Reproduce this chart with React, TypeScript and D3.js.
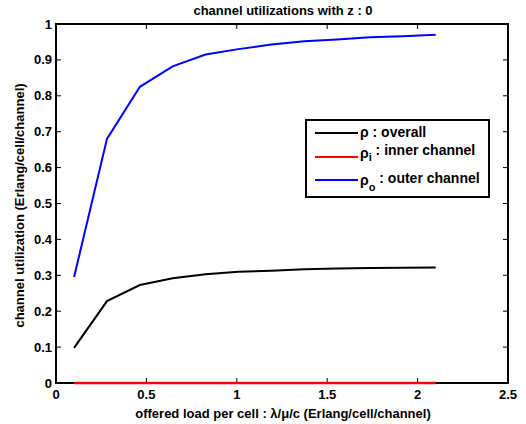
import React from "react";
import * as d3 from "d3";

const xValues = [0.1, 0.282, 0.464, 0.645, 0.827, 1.009, 1.191, 1.373, 1.555, 1.736, 1.918, 2.1];
const overall = [0.098, 0.228, 0.273, 0.292, 0.303, 0.310, 0.313, 0.317, 0.319, 0.320, 0.321, 0.322];
const inner = [0, 0, 0, 0, 0, 0, 0, 0, 0, 0, 0, 0];
const outer = [0.295, 0.68, 0.825, 0.882, 0.915, 0.930, 0.943, 0.952, 0.957, 0.963, 0.966, 0.970];
const xTicks = [0, 0.5, 1, 1.5, 2, 2.5];
const yTicks = [0, 0.1, 0.2, 0.3, 0.4, 0.5, 0.6, 0.7, 0.8, 0.9, 1];

const W = 526, H = 424;
const L = 56, R = 508, T = 24, B = 383;
const FONT = "'Liberation Sans', Arial, sans-serif";

export default function App() {
  const x = d3.scaleLinear().domain([0, 2.5]).range([L, R]);
  const y = d3.scaleLinear().domain([0, 1]).range([B, T]);
  const line = d3.line<[number, number]>().x(d => x(d[0])).y(d => y(d[1]));
  const pts = (vals: number[]) => xValues.map((xv, j) => [xv, vals[j]] as [number, number]);
  const fmt = (v: number) => String(v);
  return (
    <svg width={W} height={H} style={{ position: "absolute", left: 0, top: 0, background: "#fff" }} fontFamily={FONT} fontWeight="bold">
      <rect x={0} y={0} width={W} height={H} fill="#fff" />
      <path d={line(pts(overall)) || ""} fill="none" stroke="#000" strokeWidth={2} />
      <path d={line(pts(outer)) || ""} fill="none" stroke="#0000ff" strokeWidth={2} />
      {xTicks.map((t, i) => (
        <g key={"xt" + i}>
          <line x1={x(t)} x2={x(t)} y1={B} y2={B - 5} stroke="#000" strokeWidth={1} />
          <line x1={x(t)} x2={x(t)} y1={T} y2={T + 5} stroke="#000" strokeWidth={1} />
          <text x={x(t)} y={399} textAnchor="middle" fontSize={13}>{fmt(t)}</text>
        </g>
      ))}
      {yTicks.map((t, i) => (
        <g key={"yt" + i}>
          <line x1={L} x2={L + 5} y1={y(t)} y2={y(t)} stroke="#000" strokeWidth={1} />
          <line x1={R} x2={R - 5} y1={y(t)} y2={y(t)} stroke="#000" strokeWidth={1} />
          <text x={L - 4} y={y(t) + 4.5} textAnchor="end" fontSize={13}>{fmt(t)}</text>
        </g>
      ))}
      <rect x={L} y={T} width={R - L} height={B - T} fill="none" stroke="#000" strokeWidth={2} />
      <path d={line(pts(inner)) || ""} fill="none" stroke="#ff0000" strokeWidth={2.5} />
      <text x={(L + R) / 2 + 1} y={15} textAnchor="middle" fontSize={13}>channel utilizations with z : 0</text>
      <text x={(L + R) / 2 + 1} y={418} textAnchor="middle" fontSize={13}>offered load per cell : λ/μ/c (Erlang/cell/channel)</text>
      <text transform={`translate(24,${(T + B) / 2 + 2}) rotate(-90)`} textAnchor="middle" fontSize={13}>channel utilization (Erlang/cell/channel)</text>
      <rect x={306} y={120} width={183} height={77} fill="#fff" stroke="#000" strokeWidth={2} />
      <line x1={315} x2={358} y1={133} y2={133} stroke="#000" strokeWidth={2} />
      <line x1={315} x2={358} y1={157} y2={157} stroke="#ff0000" strokeWidth={2} />
      <line x1={315} x2={358} y1={180} y2={180} stroke="#0000ff" strokeWidth={2} />
      <text x={360} y={137} fontSize={14}>ρ : overall</text>
      <text x={360} y={158} fontSize={14}>ρ<tspan fontSize={11} dy={3}>i</tspan><tspan dy={-6}> : inner channel</tspan></text>
      <text x={360} y={185} fontSize={14}>ρ<tspan fontSize={11} dy={6}>o</tspan><tspan dy={-8}> : outer channel</tspan></text>
    </svg>
  );
}
